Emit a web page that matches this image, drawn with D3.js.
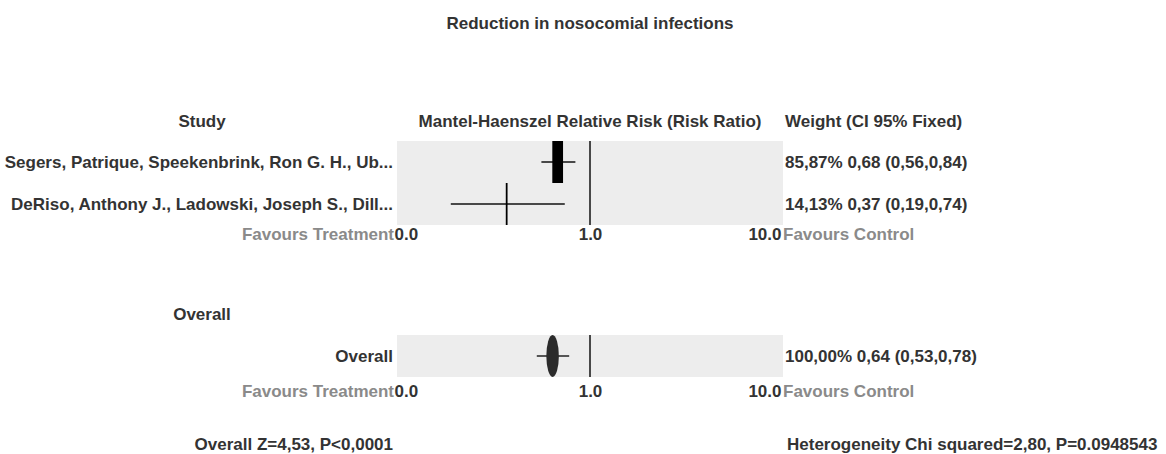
<!DOCTYPE html>
<html>
<head>
<meta charset="utf-8">
<script src="https://cdn.jsdelivr.net/npm/d3@7"></script>
<style>
  body { margin: 0; background: #fff; }
  text { font-family: "Liberation Sans", Arial, sans-serif; font-weight: bold; font-size: 17px; fill: #333; }
  .fav { fill: #8a8a8a; }
</style>
</head>
<body>
<div class="root"></div>
<script>
var width = 1166, height = 454;

// data
var studies = ['Segers, Patrique, Speekenbrink, Ron G. H., Ub...', 'DeRiso, Anthony J., Ladowski, Joseph S., Dill...'];
var rr      = [0.68, 0.37];
var ciLow   = [0.56, 0.19];
var ciHigh  = [0.84, 0.74];
var weights = [85.87, 14.13];
var weightLabels = ['85,87% 0,68 (0,56,0,84)', '14,13% 0,37 (0,19,0,74)'];

var overall = {label: 'Overall', rr: 0.64, lo: 0.53, hi: 0.78, w: 100, text: '100,00% 0,64 (0,53,0,78)'};

var tickValues = [0.1, 1, 10];
var tickLabels = ['0.0', '1.0', '10.0'];

var title = 'Reduction in nosocomial infections';
var zText = 'Overall Z=4,53, P<0,0001';
var hetText = 'Heterogeneity Chi squared=2,80, P=0.0948543';

var svg = d3.select('.root').append('svg')
            .attr('width', width)
            .attr('height', height);

var x = d3.scaleLog()
          .domain([0.1, 10])
          .range([397, 783]);

var boxW = d3.scaleLinear()
             .domain([0, 100])
             .range([0, 12.5]);

var labelRight = 393, weightLeft = 785;

function label(xp, yp, txt, anchor) {
  return svg.append('text')
            .attr('x', xp).attr('y', yp).attr('dy', '0.35em')
            .attr('text-anchor', anchor || 'start')
            .text(txt);
}

label(590, 23, title, 'middle');

// headers
label(202, 121, 'Study', 'middle');
label(590, 121, 'Mantel-Haenszel Relative Risk (Risk Ratio)', 'middle');
label(weightLeft, 121, 'Weight (CI 95% Fixed)');

function drawAxis(yMid) {
  var ax = d3.axisBottom(x)
             .tickValues(tickValues)
             .tickFormat((d, i) => tickLabels[i])
             .tickSize(0)
             .tickPadding(0);
  var g = svg.append('g')
             .attr('transform', 'translate(0,' + yMid + ')')
             .call(ax);
  g.select('.domain').remove();
  g.selectAll('text')
   .attr('font-family', null).attr('font-size', null)
   .attr('dy', '0.35em')
   .attr('fill', null)
   .attr('text-anchor', (d, i) => i == 0 ? 'start' : (i == tickValues.length - 1 ? 'end' : 'middle'))
   .attr('x', (d, i) => i == 0 ? -3 : (i == tickValues.length - 1 ? -2 : 0));
  label(x.range()[0] - 3, yMid, 'Favours Treatment', 'end').attr('class', 'fav');
  label(x.range()[1], yMid, 'Favours Control').attr('class', 'fav');
}

// ---- study panel
var y = d3.scaleBand()
          .domain(studies)
          .range([141, 225]);

svg.append('rect')
   .attr('x', x.range()[0]).attr('y', y.range()[0])
   .attr('width', x.range()[1] - x.range()[0])
   .attr('height', y.range()[1] - y.range()[0])
   .attr('fill', '#ededed');

studies.forEach(function (s, i) {
  var cy = y(s) + y.bandwidth() / 2;
  label(labelRight, cy, s, 'end');
  svg.append('line')
     .attr('x1', x(ciLow[i])).attr('x2', x(ciHigh[i]))
     .attr('y1', cy).attr('y2', cy)
     .attr('stroke', '#111').attr('stroke-width', 1.3);
  var bw = Math.max(boxW(weights[i]), 1.5);
  svg.append('rect')
     .attr('x', x(rr[i]) - bw / 2).attr('y', y(s))
     .attr('width', bw).attr('height', y.bandwidth())
     .attr('fill', '#000');
  label(weightLeft, cy, weightLabels[i]);
});

svg.append('line')
   .attr('x1', x(1)).attr('x2', x(1))
   .attr('y1', y.range()[0]).attr('y2', y.range()[1])
   .attr('stroke', '#111').attr('stroke-width', 1.5);

drawAxis(234);

// ---- overall panel
label(202, 314, 'Overall', 'middle');

var yo = d3.scaleBand()
           .domain([overall.label])
           .range([335, 377]);

var oy = yo(overall.label) + yo.bandwidth() / 2;

svg.append('rect')
   .attr('x', x.range()[0]).attr('y', yo.range()[0])
   .attr('width', x.range()[1] - x.range()[0])
   .attr('height', yo.bandwidth())
   .attr('fill', '#ededed');

label(labelRight, oy, overall.label, 'end');

svg.append('line')
   .attr('x1', x(overall.lo)).attr('x2', x(overall.hi))
   .attr('y1', oy).attr('y2', oy)
   .attr('stroke', '#222').attr('stroke-width', 1.3);

svg.append('ellipse')
   .attr('cx', x(overall.rr)).attr('cy', oy)
   .attr('rx', boxW(overall.w) / 2).attr('ry', yo.bandwidth() / 2)
   .attr('fill', '#2b2b2b');

svg.append('line')
   .attr('x1', x(1)).attr('x2', x(1))
   .attr('y1', yo.range()[0]).attr('y2', yo.range()[1])
   .attr('stroke', '#111').attr('stroke-width', 1.5);

label(weightLeft, oy, overall.text);

drawAxis(391);

label(labelRight, 444, zText, 'end');
label(weightLeft + 2, 444, hetText);
</script>
</body>
</html>
